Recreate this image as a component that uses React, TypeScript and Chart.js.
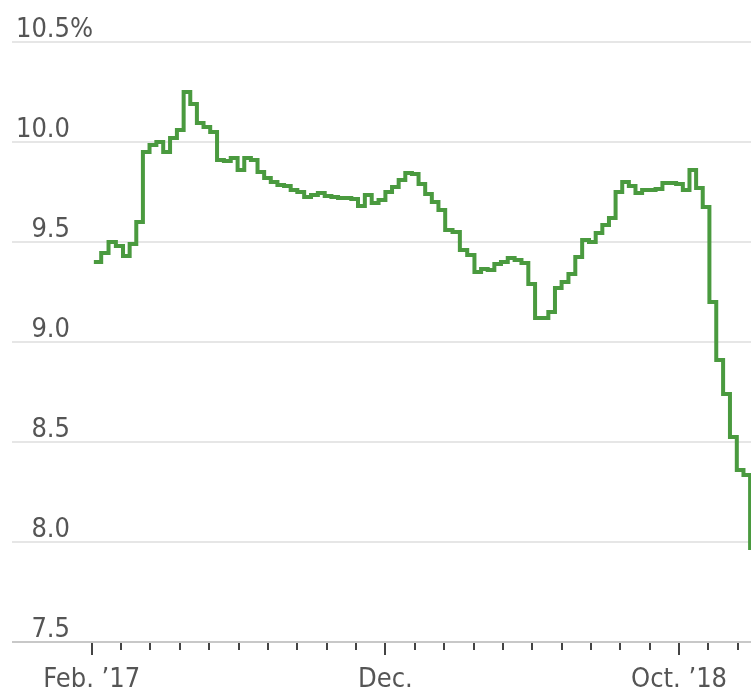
import React, { useEffect, useRef } from "react";
import { Chart, registerables } from "chart.js";

Chart.register(...registerables);

// Weekly series, first observation on Feb. 3, 2017 (percent)
const START_YEAR = 2017;
const START_MONTH = 1; // February (0-based)
const START_DAY = 3;
const weeklyRate: number[] = [
  9.4, 9.445, 9.5, 9.48, 9.43, 9.49, 9.6, 9.95, 9.985, 10.0,
  9.95, 10.02, 10.06, 10.25, 10.19, 10.095, 10.075, 10.05, 9.91, 9.905,
  9.92, 9.86, 9.92, 9.91, 9.85, 9.82, 9.8, 9.785, 9.78, 9.76,
  9.75, 9.725, 9.735, 9.745, 9.73, 9.725, 9.72, 9.72, 9.715, 9.68,
  9.735, 9.695, 9.71, 9.75, 9.775, 9.81, 9.845, 9.84, 9.79, 9.74,
  9.7, 9.66, 9.56, 9.55, 9.46, 9.435, 9.35, 9.365, 9.36, 9.39,
  9.4, 9.42, 9.41, 9.395, 9.29, 9.12, 9.12, 9.15, 9.27, 9.3,
  9.34, 9.425, 9.51, 9.5, 9.545, 9.585, 9.62, 9.75, 9.8, 9.78,
  9.745, 9.76, 9.76, 9.765, 9.795, 9.795, 9.79, 9.76, 9.86, 9.77,
  9.675, 9.2, 8.91, 8.74, 8.525, 8.36, 8.335, 7.96,
];

// Y axis
const yTickValues: number[] = [7.5, 8.0, 8.5, 9.0, 9.5, 10.0, 10.5];
const yTickLabels: string[] = ["7.5", "8.0", "8.5", "9.0", "9.5", "10.0", "10.5"];
const yTopSuffix = "%";

// X axis: month index (0 = Jan. 2017)
const tickMonths: number[] = [1, 2, 3, 4, 5, 6, 7, 8, 9, 10, 11, 12, 13, 14, 15, 16, 17, 18, 19, 20, 21, 22, 23];
const labelMonths: number[] = [1, 11, 21];
const labelTexts: string[] = ["Feb. \u201917", "Dec.", "Oct. \u201918"];

const FONT = '"DejaVu Sans Condensed", "DejaVu Sans", sans-serif';

function monthIndex(t: number): number {
  const d = new Date(t);
  const y = d.getUTCFullYear();
  const mo = d.getUTCMonth();
  const day = d.getUTCDate();
  const dim = new Date(Date.UTC(y, mo + 1, 0)).getUTCDate();
  return (y - 2017) * 12 + mo + (day - 1) / dim;
}

const points = weeklyRate.map((v, i) => ({
  x: monthIndex(Date.UTC(START_YEAR, START_MONTH, START_DAY + 7 * i)),
  y: v,
}));

const decorPlugin = {
  id: "decor",
  afterDraw(chart: any) {
    const ctx = chart.ctx as CanvasRenderingContext2D;
    const xs = chart.scales.x;
    const ys = chart.scales.y;
    const bottom = chart.chartArea.bottom;
    ctx.save();
    // y labels
    ctx.font = `27px ${FONT}`;
    ctx.fillStyle = "#555555";
    ctx.textBaseline = "alphabetic";
    yTickValues.forEach((v, i) => {
      const py = ys.getPixelForValue(v);
      ctx.textAlign = "right";
      ctx.fillText(yTickLabels[i], 70, py - 5);
      if (i === yTickValues.length - 1) {
        ctx.textAlign = "left";
        ctx.fillText(yTopSuffix, 70, py - 5);
      }
    });
    // x ticks
    ctx.strokeStyle = "#444444";
    ctx.lineWidth = 2;
    tickMonths.forEach((m) => {
      const px = Math.round(xs.getPixelForValue(m));
      const major = labelMonths.includes(m);
      ctx.beginPath();
      ctx.moveTo(px, bottom + 1);
      ctx.lineTo(px, bottom + (major ? 13 : 8));
      ctx.stroke();
    });
    // x labels
    ctx.textAlign = "center";
    labelMonths.forEach((m, i) => {
      const px = xs.getPixelForValue(m);
      ctx.fillText(labelTexts[i], px, bottom + 45);
    });
    ctx.restore();
  },
};

export default function App() {
  const ref = useRef<HTMLCanvasElement | null>(null);
  useEffect(() => {
    if (!ref.current) return;
    const chart = new Chart(ref.current, {
      type: "line",
      data: {
        datasets: [
          {
            data: points,
            borderColor: "#4a9a3f",
            borderWidth: 4,
            pointRadius: 0,
            stepped: true,
            borderJoinStyle: "miter",
            fill: false,
            clip: 6,
          } as any,
        ],
      },
      options: {
        animation: false,
        responsive: false,
        maintainAspectRatio: false,
        layout: { padding: { left: 12, right: 0, top: 42, bottom: 50 } },
        plugins: { legend: { display: false }, tooltip: { enabled: false } },
        scales: {
          x: {
            type: "linear",
            display: false,
            min: -1.716,
            max: 23.45,
          },
          y: {
            type: "linear",
            min: 7.5,
            max: 10.5,
            ticks: { display: false, stepSize: 0.5 },
            border: { display: false },
            grid: {
              drawTicks: false,
              lineWidth: 2,
              color: (c: any) => (c.tick && c.tick.value === 7.5 ? "#c8c8c8" : "#e6e6e6"),
            },
          },
        },
      },
      plugins: [decorPlugin],
    });
    return () => chart.destroy();
  }, []);
  return (
    <div style={{ position: "absolute", left: 0, top: 0, width: 751, height: 692, background: "#fff" }}>
      <canvas ref={ref} width={751} height={692} style={{ width: 751, height: 692, display: "block" }} />
    </div>
  );
}
